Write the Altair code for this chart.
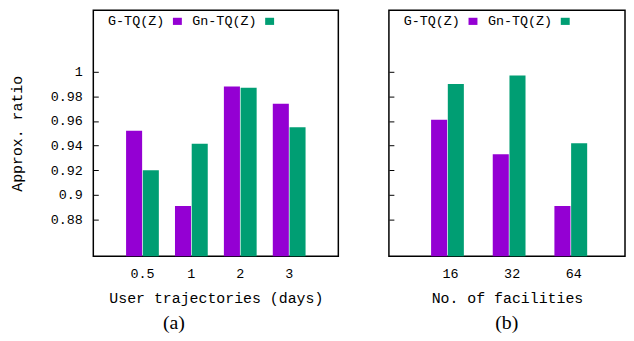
import altair as alt
import pandas as pd

series = ["G-TQ(Z)", "Gn-TQ(Z)"]
colors = ["#9400d3", "#009e73"]

days = ["0.5", "1", "2", "3"]
days_gtq = [0.952, 0.891, 0.988, 0.974]
days_gntq = [0.920, 0.9415, 0.987, 0.955]

facilities = ["16", "32", "64"]
fac_gtq = [0.961, 0.933, 0.891]
fac_gntq = [0.990, 0.997, 0.942]

y_ticks = [0.88, 0.90, 0.92, 0.94, 0.96, 0.98, 1.0]
y_domain = [0.85, 1.05]

MONO = "Liberation Mono"
SERIF = "Liberation Serif"


def frame(cats, a, b):
    rows = []
    for c, v1, v2 in zip(cats, a, b):
        rows.append({"cat": c, "series": series[0], "value": v1})
        rows.append({"cat": c, "series": series[1], "value": v2})
    return pd.DataFrame(rows)


def panel(df, cats, xtitle, sub, show_y, w, pin, pout, align):
    ykw = dict(values=y_ticks, format="~g", offset=-5, tickSize=5, domain=False, grid=False,
               labels=show_y, tickColor="black", tickWidth=1)
    if show_y:
        ykw.update(labelPadding=11, labelFont=MONO, labelFontSize=13.5, labelColor="black",
                   titleFont=MONO, titleFontSize=15, titleFontWeight="normal",
                   titleColor="black", titlePadding=26)
    y = alt.Y("value:Q", scale=alt.Scale(domain=y_domain, zero=False, nice=False),
              axis=alt.Axis(**ykw), title="Approx. ratio" if show_y else None)
    x = alt.X("cat:N", sort=cats, title=xtitle,
              scale=alt.Scale(paddingInner=pin, paddingOuter=pout, align=align),
              axis=alt.Axis(labelAngle=0, ticks=False, domain=False, labelPadding=10,
                            labelFont=MONO, labelFontSize=13.5, labelColor="black",
                            titleFont=MONO, titleFontSize=15, titleFontWeight="normal",
                            titleColor="black", titlePadding=11))
    color = alt.Color("series:N", sort=series,
                      scale=alt.Scale(domain=series, range=colors),
                      legend=alt.Legend(title=None, orient="none", legendX=78, legendY=4,
                                        direction="horizontal",
                                        symbolType="M-1,-0.8H1V0.8H-1Z", symbolSize=81,
                                        symbolStrokeWidth=0, labelFont=MONO,
                                        labelFontSize=13.5, labelColor="black",
                                        labelAlign="right", labelOffset={"expr": "-20"},
                                        columnPadding=9, padding=0))
    return alt.Chart(df).mark_bar(clip=True).encode(
        x=x,
        xOffset=alt.XOffset("series:N", sort=series, scale=alt.Scale(paddingInner=0.04)),
        y=y,
        color=color,
    ).properties(
        width=w, height=248,
        title=alt.TitleParams(sub, orient="bottom", font=SERIF, fontSize=20,
                              fontWeight="normal", frame="bounds", anchor="middle",
                              offset=8, color="black"),
    )


pa = panel(frame(days, days_gtq, days_gntq), days, "User trajectories (days)", "(a)",
           True, 247, 0.33, 0.67, 0.5)
pb = panel(frame(facilities, fac_gtq, fac_gntq), facilities, "No. of facilities", "(b)",
           False, 238, 0.371, 0.6, 0.57)

chart = alt.hconcat(pa, pb, spacing=48).resolve_legend(color="independent").properties(
    padding=0
).configure_view(stroke="black", strokeWidth=1.5)

chart.save("out.html", embed_options={"renderer": "svg", "actions": False})
